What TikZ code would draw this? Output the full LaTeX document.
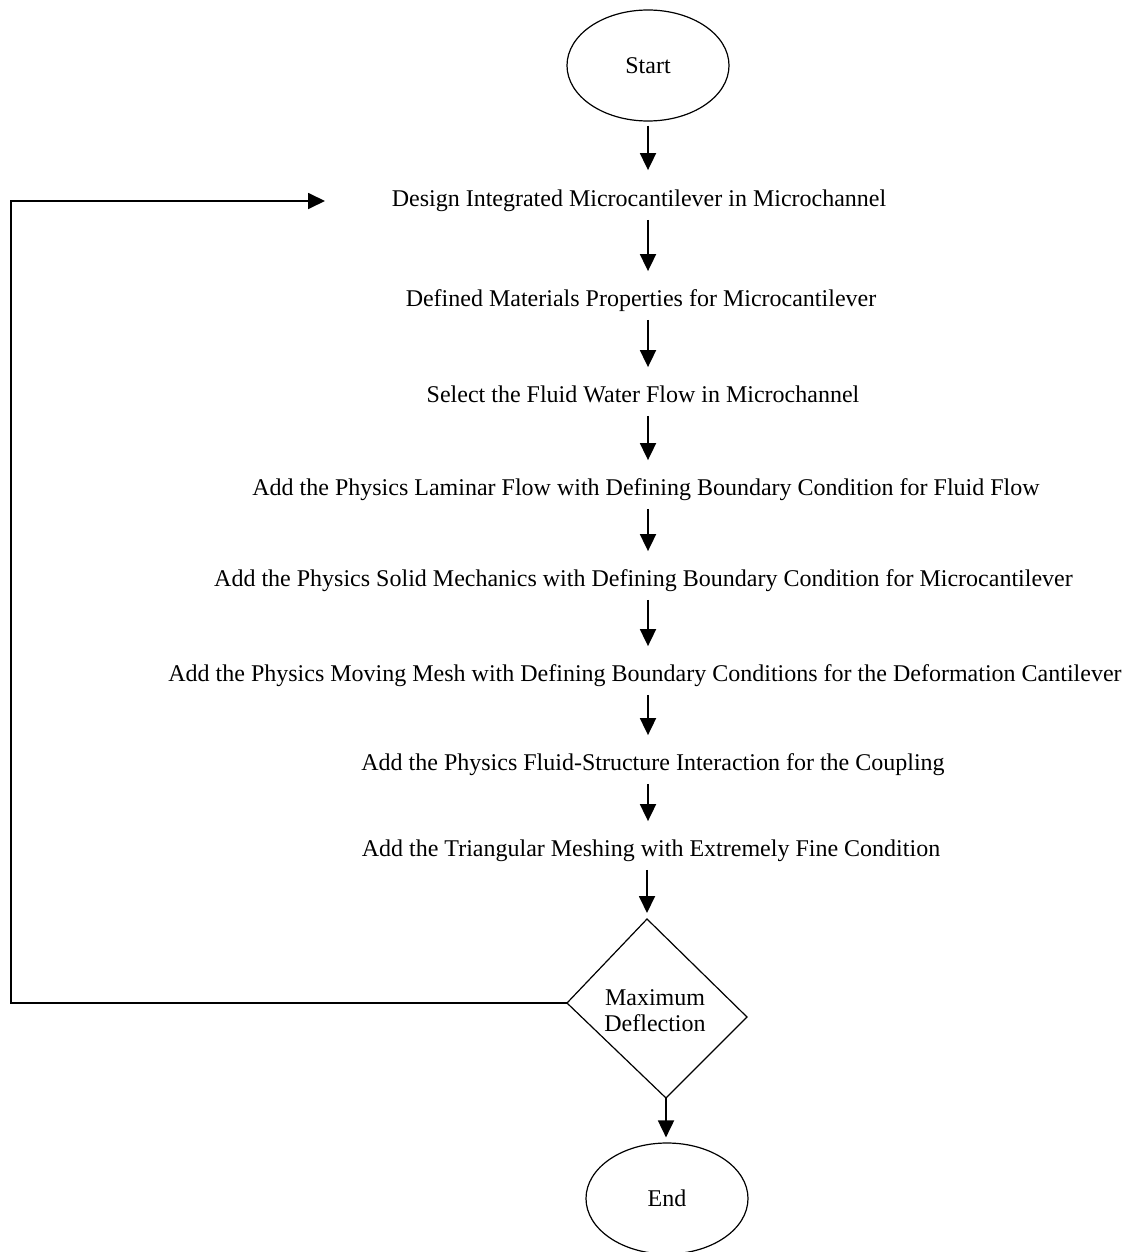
\documentclass[tikz,border=0pt]{standalone}
\usepackage{fontspec}
\setmainfont{Liberation Serif}
\usetikzlibrary{shapes.geometric,arrows.meta,calc}
\begin{document}
\begin{tikzpicture}[x=0.5pt,y=-0.5pt,
  every node/.style={font=\fontsize{12}{13}\selectfont},
  txt/.style={inner xsep=0pt, inner ysep=2pt, text height=8pt, text depth=2.5pt},
  term/.style={ellipse, draw, line width=0.6pt, minimum width=81pt, minimum height=55.5pt, inner sep=0pt},
  conn/.style={line width=0.9pt, -{Triangle[length=8.5pt,width=8pt]}},
  link/.style={conn, shorten <=2pt, shorten >=7.5pt},
  decline/.style={line width=0.6pt}
]
\useasboundingbox (0,0) rectangle (1127,1252);

\node[term] (start) at (648,65.5) {Start};
\node[txt] (t1) at (639,201) {Design Integrated Microcantilever in Microchannel};
\node[txt] (t2) at (641,301) {Defined Materials Properties for Microcantilever};
\node[txt] (t3) at (643,397) {Select the Fluid Water Flow in Microchannel};
\node[txt] (t4) at (646,490) {Add the Physics Laminar Flow with Defining Boundary Condition for Fluid Flow};
\node[txt] (t5) at (643.5,581) {Add the Physics Solid Mechanics with Defining Boundary Condition for Microcantilever};
\node[txt] (t6) at (645,676) {Add the Physics Moving Mesh with Defining Boundary Conditions for the Deformation Cantilever};
\node[txt] (t7) at (653,765) {Add the Physics Fluid-Structure Interaction for the Coupling};
\node[txt] (t8) at (651,851) {Add the Triangular Meshing with Extremely Fine Condition};

\coordinate (dt) at (647,919);
\coordinate (dr) at (747,1017);
\coordinate (db) at (666,1098);
\coordinate (dl) at (567,1003);
\draw[decline] (dt) -- (dr) -- (db) -- (dl) -- cycle;
\node[align=center] (dec) at (655,1011) {Maximum\\Deflection};

\node[term] (end) at (667,1198.5) {End};

\coordinate (ax) at (648,0);
\draw[conn,shorten <=2pt,shorten >=8pt] (start.south) -- (t1.north -| start.south);
\draw[link] (t1.south -| ax) -- (t2.north -| ax);
\draw[link] (t2.south -| ax) -- (t3.north -| ax);
\draw[link] (t3.south -| ax) -- (t4.north -| ax);
\draw[link] (t4.south -| ax) -- (t5.north -| ax);
\draw[link] (t5.south -| ax) -- (t6.north -| ax);
\draw[link] (t6.south -| ax) -- (t7.north -| ax);
\draw[link] (t7.south -| ax) -- (t8.north -| ax);
\draw[conn,shorten <=2pt,shorten >=3pt] (t8.south -| dt) -- (dt);
\draw[conn,shorten >=2.5pt] (db) -- (db |- end.north);

\coordinate (lt) at (11,201);
\coordinate (lp) at (325,201);
\draw[conn] (dl) -| (lt) -- (lp);
\end{tikzpicture}
\end{document}
